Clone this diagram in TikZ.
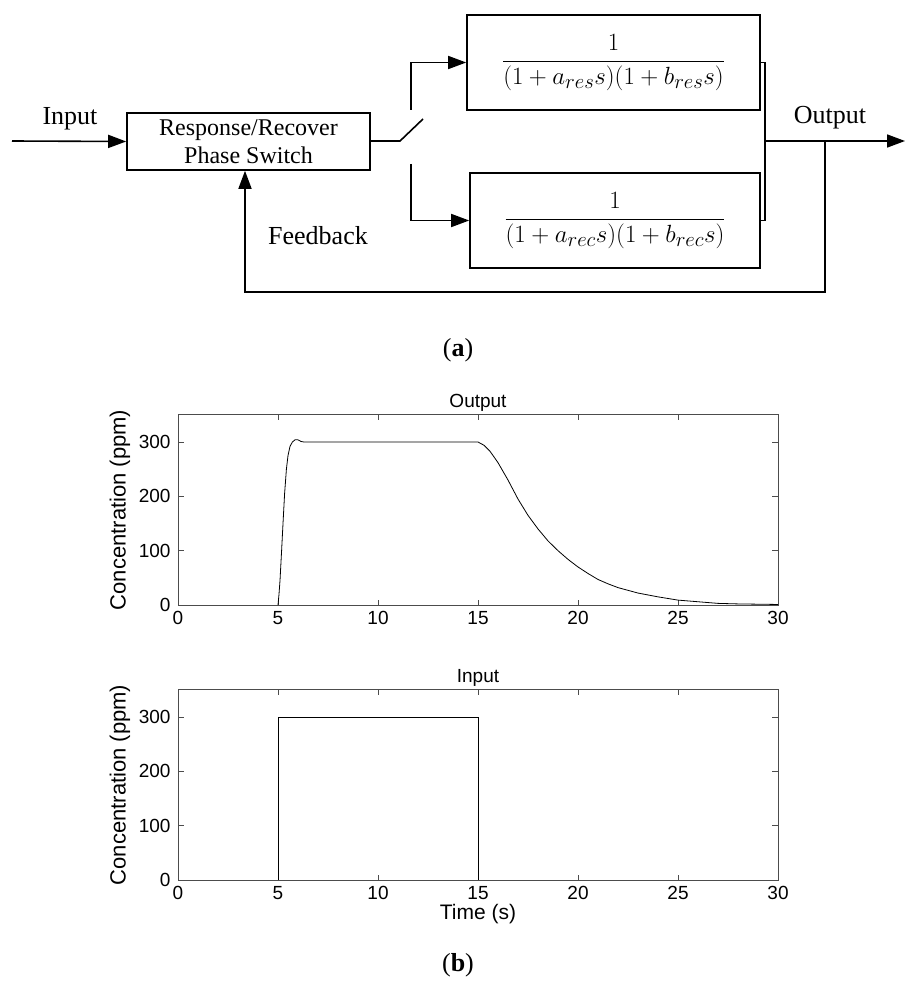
\documentclass[tikz,border=0pt]{standalone}
\usepackage{fontspec}
\setmainfont{Liberation Serif}
\setsansfont{Liberation Sans}
\usetikzlibrary{arrows.meta}
\begin{document}
\begin{tikzpicture}[x=1pt,y=-1pt,
  blk/.style={draw,line width=1.6pt,inner sep=0pt},
  wire/.style={line width=1.6pt},
  arr/.style={wire,-{Triangle[length=18pt,width=13pt]}},
  lbl/.style={font=\fontsize{26}{30}\selectfont},
  tl/.style={font=\sffamily\fontsize{19}{22}\selectfont},
  ax/.style={draw=black!70,line width=0.8pt}]
\useasboundingbox (0,0) rectangle (917,1000);
% block diagram
\node[blk,minimum width=243pt,minimum height=57pt,align=center,font=\fontsize{24}{28}\selectfont] (sw) at (248.5,141.5) {Response/Recover\\Phase Switch};
\node[blk,minimum width=293pt,minimum height=95pt,font=\fontsize{28}{30}\selectfont] (res) at (613.5,62.5) {$\displaystyle\frac{1}{(1+a_{res}s)(1+b_{res}s)}$};
\node[blk,minimum width=290pt,minimum height=95pt,font=\fontsize{28}{30}\selectfont] (rec) at (615,220.5) {$\displaystyle\frac{1}{(1+a_{rec}s)(1+b_{rec}s)}$};
\coordinate (in) at (12,141);
\coordinate (s1) at (400,141);
\coordinate (s2) at (423,119);
\coordinate (ut) at (411,110);
\coordinate (ub) at (411,164);
\coordinate (j) at (765,141);
\coordinate (fb) at (825,141);
\coordinate (out) at (905,141);
\draw[arr] (in) -- (sw.west);
\draw[wire] (sw.east |- s1) -- (s1) -- (s2);
\draw[arr] (ut) |- (res.west);
\draw[arr] (ub) |- (rec.west);
\draw[wire] (res.east) -| (j) |- (rec.east);
\draw[arr] (j) -- (out);
\draw[arr] (fb) -- (825,292) -| (sw.south -| 245,0);
\node[lbl] (tin) at (70,119) {Input};
\node[lbl] (tout) at (830,118) {Output};
\node[lbl] (tfb) at (318,236) {Feedback};
\node[lbl] (ta) at (458,350) {(\textbf{a})};
\node[lbl] (tb) at (458,965) {(\textbf{b})};
% plots
\foreach \oy/\ttl in {605/Output,880/Input}{
\begin{scope}[shift={(178,\oy)},x=20pt,y=0.5433pt]
 \draw[ax] (0,0) rectangle (30,350);
 \foreach \t in {0,5,...,30}{
   \draw[ax] (\t,0) -- (\t,9); \draw[ax] (\t,350) -- (\t,341);
   \node[tl,anchor=north] at (\t,-5) {\t};}
 \foreach \v in {0,100,200,300}{
   \draw[ax] (0,\v) -- (0.3,\v); \draw[ax] (30,\v) -- (29.7,\v);
   \node[tl,anchor=east] at (-0.2,\v) {\v};}
 \node[tl] at (15,372) {\ttl};
 \node[font=\sffamily\fontsize{22}{26}\selectfont,rotate=90] at (-2.9,175) {Concentration (ppm)};
\end{scope}}
\begin{scope}[shift={(178,605)},x=20pt,y=0.5433pt]
 \draw[line width=0.8pt,line join=round] (5,0) -- (5.05,20) -- (5.1,45) -- (5.18,100) -- (5.25,150) -- (5.33,205) -- (5.42,250) -- (5.5,275) -- (5.6,292) -- (5.72,300) -- (5.85,304) -- (6,304) -- (6.15,301) -- (6.3,300) -- (15,300) -- (15.3,294) -- (15.6,283) -- (16,262) -- (16.5,230) -- (17,195) -- (17.5,165) -- (18,140) -- (18.5,118) -- (19,100) -- (19.5,84) -- (20,70) -- (20.5,58) -- (21,47) -- (21.5,39) -- (22,32) -- (23,22) -- (24,15) -- (25,9) -- (26,6) -- (27,3) -- (28,2) -- (30,1);
\end{scope}
\begin{scope}[shift={(178,880)},x=20pt,y=0.5433pt]
 \draw[line width=0.8pt] (5,0) -- (5,300) -- (15,300) -- (15,0);
 \node[font=\sffamily\fontsize{21}{24}\selectfont] at (15,-62) {Time (s)};
\end{scope}
\end{tikzpicture}
\end{document}
